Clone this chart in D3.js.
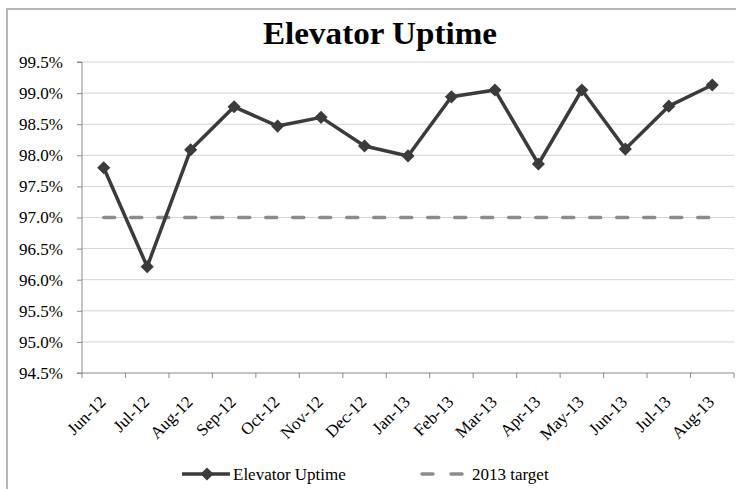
<!DOCTYPE html>
<html>
<head>
<meta charset="utf-8">
<script src="https://cdn.jsdelivr.net/npm/d3@7"></script>
<style>
  html, body { margin: 0; padding: 0; background: #fff; }
  svg { display: block; }
  text { font-family: "Liberation Serif", "Times New Roman", serif; fill: #000; }
</style>
</head>
<body>
<div id="chart"></div>
<script>
const categories = ["Jun-12","Jul-12","Aug-12","Sep-12","Oct-12","Nov-12","Dec-12","Jan-13","Feb-13","Mar-13","Apr-13","May-13","Jun-13","Jul-13","Aug-13"];
const uptime = [97.80, 96.21, 98.09, 98.78, 98.47, 98.61, 98.15, 97.99, 98.94, 99.05, 97.86, 99.05, 98.10, 98.79, 99.13];
const target = [97.0, 97.0, 97.0, 97.0, 97.0, 97.0, 97.0, 97.0, 97.0, 97.0, 97.0, 97.0, 97.0, 97.0, 97.0];
const yTicks = [94.5, 95.0, 95.5, 96.0, 96.5, 97.0, 97.5, 98.0, 98.5, 99.0, 99.5];
const seriesNames = ["Elevator Uptime", "2013 target"];
const title = "Elevator Uptime";

const W = 736, H = 489;
const pLeft = 82, pRight = 734, pTop = 62, pBottom = 373;

const svg = d3.select("#chart").append("svg").attr("width", W).attr("height", H);

// chart border
svg.append("rect").attr("x", 7).attr("y", 9).attr("width", W + 10).attr("height", H + 10)
  .attr("fill", "#fff").attr("stroke", "#a0a0a0").attr("stroke-width", 1.5);

const x = d3.scaleBand().domain(categories).range([pLeft, pRight]).padding(0);
const cx = d => x(d) + x.bandwidth() / 2;
const y = d3.scaleLinear().domain([94.5, 99.5]).range([pBottom, pTop]);

// gridlines
svg.append("g").selectAll("line").data(yTicks.filter(t => t > 94.5)).join("line")
  .attr("x1", pLeft).attr("x2", pRight)
  .attr("y1", d => y(d)).attr("y2", d => y(d))
  .attr("stroke", "#d4d4d4").attr("stroke-width", 1);

// y axis
const yAxis = svg.append("g").attr("transform", `translate(${pLeft},0)`)
  .call(d3.axisLeft(y).tickValues(yTicks).tickFormat(d => d3.format(".1f")(d) + "%").tickSize(5).tickPadding(14));
yAxis.select(".domain").attr("stroke", "#8a8a8a").attr("d", `M-5,${pTop}H0V${pBottom}H-5`);
yAxis.selectAll(".tick line").attr("stroke", "#8a8a8a");
yAxis.selectAll(".tick text").attr("font-size", 17).attr("font-family", "Liberation Serif, serif").attr("fill", "#000");

// x axis line + ticks at category boundaries
const boundaries = categories.map(c => x(c)).concat([pRight]);
svg.append("line").attr("x1", pLeft).attr("x2", pRight).attr("y1", pBottom).attr("y2", pBottom)
  .attr("stroke", "#8a8a8a").attr("stroke-width", 1);
svg.append("g").selectAll("line").data(boundaries).join("line")
  .attr("x1", d => d).attr("x2", d => d).attr("y1", pBottom).attr("y2", pBottom + 5)
  .attr("stroke", "#8a8a8a");

// x labels
svg.append("g").selectAll("text").data(categories).join("text")
  .attr("transform", d => `translate(${cx(d) + 3},${pBottom + 30}) rotate(-45)`)
  .attr("text-anchor", "end")
  .attr("font-size", 17)
  .text(d => d);

// target line
const line = d3.line().x((d, i) => cx(categories[i])).y(d => y(d));
svg.append("path").datum(target).attr("d", line)
  .attr("fill", "none").attr("stroke", "#8c8c8c").attr("stroke-width", 3.5)
  .attr("stroke-dasharray", "11,16").attr("stroke-linecap", "round");

// uptime line
svg.append("path").datum(uptime).attr("d", line)
  .attr("fill", "none").attr("stroke", "#3b3b3b").attr("stroke-width", 3.5)
  .attr("stroke-linejoin", "round");

const diamond = d3.symbol().type(d3.symbolDiamond2).size(110);
svg.append("g").selectAll("path").data(uptime).join("path")
  .attr("transform", (d, i) => `translate(${cx(categories[i])},${y(d)})`)
  .attr("d", diamond)
  .attr("fill", "#3b3b3b");

// title
svg.append("text").attr("x", 380).attr("y", 44).attr("text-anchor", "middle")
  .attr("font-size", 32).attr("font-weight", "bold")
  .attr("textLength", 234).attr("lengthAdjust", "spacingAndGlyphs")
  .text(title);

// legend
const ly = 474;
const lg = svg.append("g");
lg.append("line").attr("x1", 182).attr("x2", 230).attr("y1", ly).attr("y2", ly)
  .attr("stroke", "#3b3b3b").attr("stroke-width", 3.5);
lg.append("path").attr("transform", `translate(207,${ly})`).attr("d", diamond).attr("fill", "#3b3b3b");
lg.append("text").attr("x", 233).attr("y", ly + 6).attr("font-size", 17).text(seriesNames[0]);
lg.append("line").attr("x1", 422).attr("x2", 462).attr("y1", ly).attr("y2", ly)
  .attr("stroke", "#8c8c8c").attr("stroke-width", 3.5)
  .attr("stroke-dasharray", "11,18").attr("stroke-linecap", "round");
lg.append("text").attr("x", 472).attr("y", ly + 6).attr("font-size", 17).text(seriesNames[1]);
</script>
</body>
</html>
